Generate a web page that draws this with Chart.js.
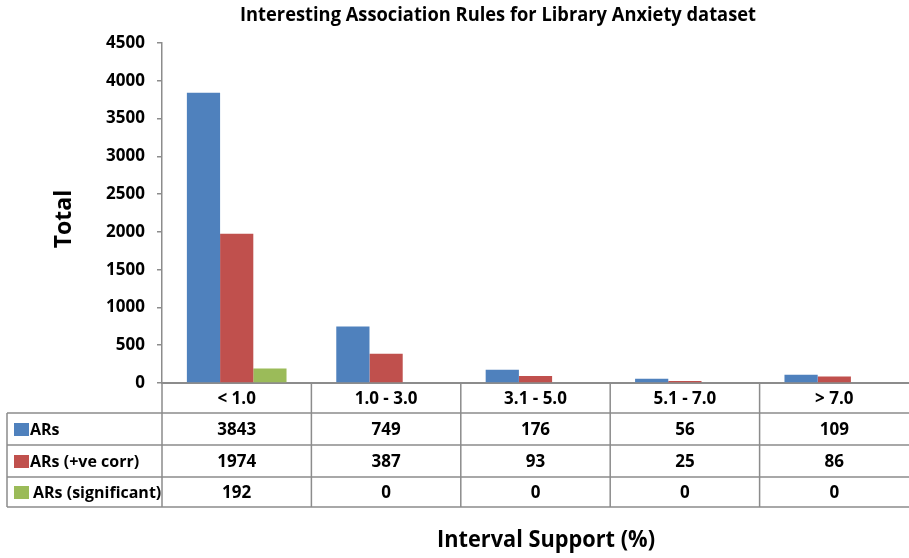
<!DOCTYPE html>
<html>
<head>
<meta charset="utf-8">
<script src="https://cdn.jsdelivr.net/npm/chart.js@4/dist/chart.umd.min.js"></script>
<style>
  html, body { margin: 0; padding: 0; background: #fff; }
  #wrap { width: 909px; height: 558px; }
</style>
</head>
<body>
<div id="wrap"><canvas id="c" width="909" height="558"></canvas></div>
<script>
// Support intervals (%) and rule counts per interval
const categories = ['< 1.0', '1.0 - 3.0', '3.1 - 5.0', '5.1 - 7.0', '> 7.0'];
const seriesNames = ['ARs', 'ARs (+ve corr)', 'ARs (significant)'];
const arsAll = [3843, 749, 176, 56, 109];
const arsPosCorr = [1974, 387, 93, 25, 86];
const arsSignificant = [192, 0, 0, 0, 0];
const yTicks = [0, 500, 1000, 1500, 2000, 2500, 3000, 3500, 4000, 4500];

const titleText = 'Interesting Association Rules for Library Anxiety dataset';
const yTitle = 'Total';
const xTitle = 'Interval Support (%)';

const colors = ['#4F81BD', '#C0504D', '#9BBB59'];
const seriesValues = [arsAll, arsPosCorr, arsSignificant];
const gridGray = '#8C8C8C';
const fam = '"Open Sans", "DejaVu Sans", sans-serif';
const tickFont = 'bold 17px ' + fam;

// draw text squeezed to a given width when it would run wider
function fitText(ctx, text, cx, cy, maxW) {
  const w = ctx.measureText(text).width;
  if (w <= maxW) { ctx.fillText(text, cx, cy); return; }
  ctx.save();
  ctx.translate(cx, cy);
  ctx.scale(maxW / w, 1);
  ctx.fillText(text, 0, 0);
  ctx.restore();
}

// Title, axis titles and the data table underneath the plot
const decorations = {
  id: 'decorations',
  afterDraw(chart) {
    const ctx = chart.ctx;
    const area = chart.chartArea;
    const x = chart.scales.x;
    ctx.save();

    // chart title
    ctx.fillStyle = '#000';
    ctx.textAlign = 'center';
    ctx.textBaseline = 'middle';
    ctx.font = 'bold 20px ' + fam;
    fitText(ctx, titleText, 498, 15, 516);

    // y axis title
    ctx.save();
    ctx.translate(64, 219);
    ctx.rotate(-Math.PI / 2);
    ctx.font = 'bold 23px ' + fam;
    ctx.fillText(yTitle, 0, 0);
    ctx.restore();

    // x axis title
    ctx.font = 'bold 23px ' + fam;
    fitText(ctx, xTitle, 546, 540, 218);

    // data table
    const n = categories.length;
    const catW = (x.right - x.left) / n;
    const top = area.bottom;
    const rowEdges = [top, top + 30, top + 62, top + 94, top + 124];
    const tableLeft = 7;
    const right = chart.width;

    ctx.strokeStyle = gridGray;
    ctx.lineWidth = 1.5;
    ctx.beginPath();
    for (let i = 0; i < n; i++) {
      const bx = x.getPixelForValue(i) - catW / 2;
      ctx.moveTo(bx, rowEdges[0]);
      ctx.lineTo(bx, rowEdges[4]);
    }
    for (let r = 1; r < rowEdges.length; r++) {
      ctx.moveTo(tableLeft, rowEdges[r]);
      ctx.lineTo(right, rowEdges[r]);
    }
    ctx.moveTo(tableLeft, rowEdges[1]);
    ctx.lineTo(tableLeft, rowEdges[4]);
    ctx.stroke();

    // column headers
    ctx.fillStyle = '#000';
    ctx.font = tickFont;
    for (let i = 0; i < n; i++) {
      ctx.fillText(categories[i], x.getPixelForValue(i), (rowEdges[0] + rowEdges[1]) / 2 + 1);
    }

    // series rows
    for (let s = 0; s < seriesValues.length; s++) {
      const cy = (rowEdges[s + 1] + rowEdges[s + 2]) / 2 + 1;
      ctx.fillStyle = colors[s];
      ctx.fillRect(14, cy - 7, 15, 13);
      ctx.fillStyle = '#000';
      ctx.textAlign = 'left';
      ctx.font = 'bold 16px ' + fam;
      ctx.fillText(seriesNames[s], s === 2 ? 33 : 30, cy);
      ctx.textAlign = 'center';
      ctx.font = tickFont;
      for (let i = 0; i < n; i++) {
        ctx.fillText(String(seriesValues[s][i]), x.getPixelForValue(i), cy);
      }
    }
    ctx.restore();
  }
};

new Chart(document.getElementById('c'), {
  type: 'bar',
  data: {
    labels: categories,
    datasets: seriesNames.map((name, i) => ({
      label: name,
      data: seriesValues[i],
      backgroundColor: colors[i],
      borderWidth: 0,
      categoryPercentage: 0.667,
      barPercentage: 1.0
    }))
  },
  options: {
    responsive: false,
    animation: false,
    layout: { padding: { left: 0, right: 0, top: 43, bottom: 175 } },
    plugins: {
      legend: { display: false },
      title: { display: false },
      tooltip: { enabled: false }
    },
    scales: {
      x: {
        ticks: { display: false },
        grid: { display: true, drawOnChartArea: false, drawTicks: false },
        border: { display: true, color: gridGray, width: 2 },
        afterFit(scale) { scale.height = 0; }
      },
      y: {
        min: 0,
        max: 4500,
        afterBuildTicks(scale) { scale.ticks = yTicks.map(v => ({ value: v })); },
        ticks: {
          color: '#000',
          font: { family: fam, size: 17, weight: 'bold' },
          padding: 12,
          callback: v => String(v)
        },
        grid: { display: true, drawOnChartArea: false, drawTicks: true, tickLength: 5, color: gridGray, lineWidth: 1.5 },
        border: { display: true, color: gridGray, width: 1.5 },
        afterFit(scale) { scale.width = 162; }
      }
    }
  },
  plugins: [decorations]
});
</script>
</body>
</html>
